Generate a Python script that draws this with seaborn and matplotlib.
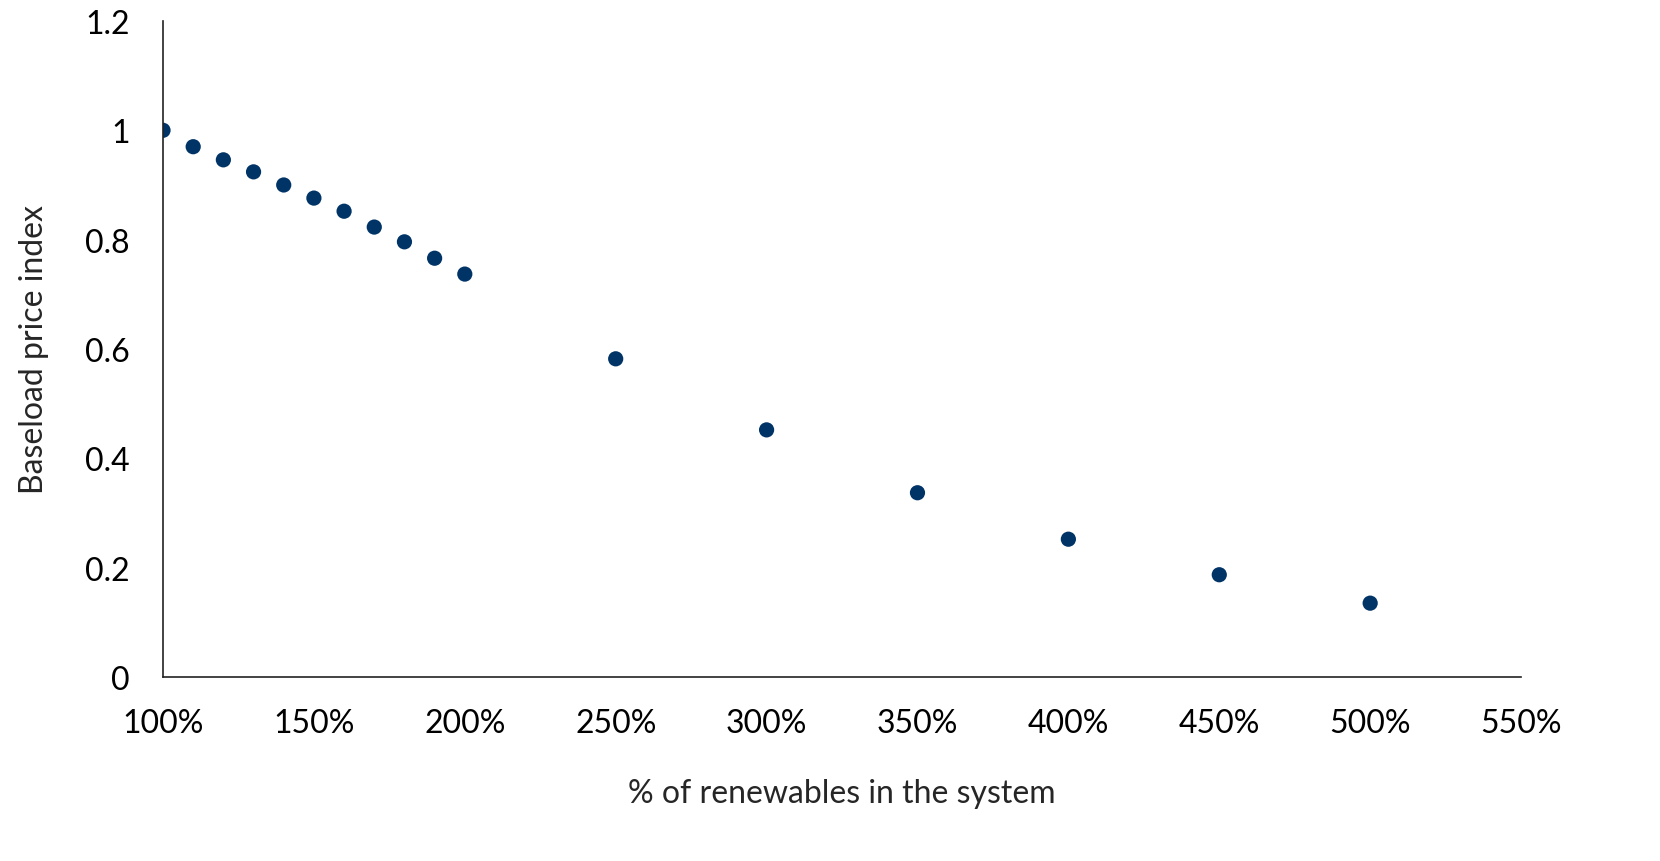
import numpy as np
import pandas as pd
import matplotlib
matplotlib.use('Agg')
import matplotlib.pyplot as plt
import seaborn as sns
from matplotlib.ticker import FuncFormatter

# Share of renewables (%) and baseload price index
renewables_pct = [100, 110, 120, 130, 140, 150, 160, 170, 180, 190, 200,
                  250, 300, 350, 400, 450, 500]
price_index = [1.0, 0.970, 0.946, 0.924, 0.900, 0.876, 0.852, 0.823, 0.796,
               0.766, 0.737, 0.582, 0.452, 0.337, 0.252, 0.187, 0.135]

x_ticks = [100, 150, 200, 250, 300, 350, 400, 450, 500, 550]
y_ticks = [0, 0.2, 0.4, 0.6, 0.8, 1.0, 1.2]

df = pd.DataFrame({'renewables': renewables_pct, 'price': price_index})

sns.set_style('white')
plt.rcParams['font.family'] = ['Lato', 'DejaVu Sans']

fig = plt.figure(figsize=(16.6, 8.62), dpi=100)
ax = fig.add_axes([0.0982, 0.2135, 0.9163 - 0.0982, 0.9745 - 0.2135])

sns.scatterplot(data=df, x='renewables', y='price', ax=ax,
                color='#003366', s=120, edgecolor='none', legend=False)

ax.set_xlim(100, 550)
ax.set_ylim(0, 1.2)
ax.set_xticks(x_ticks)
ax.set_yticks(y_ticks)
ax.xaxis.set_major_formatter(FuncFormatter(lambda v, p: f'{int(v)}%'))
ax.yaxis.set_major_formatter(FuncFormatter(lambda v, p: f'{v:g}'))
ax.tick_params(axis='both', length=0, labelsize=23, colors='black')
ax.tick_params(axis='x', pad=22)
ax.tick_params(axis='y', pad=24)

ax.set_xlabel('% of renewables in the system', fontsize=23, labelpad=29)
ax.set_ylabel('Baseload price index', fontsize=23, labelpad=26)

for side in ['top', 'right']:
    ax.spines[side].set_visible(False)
for side in ['left', 'bottom']:
    ax.spines[side].set_color('#222222')
    ax.spines[side].set_linewidth(1.2)

fig.savefig('out.png', dpi=100)
